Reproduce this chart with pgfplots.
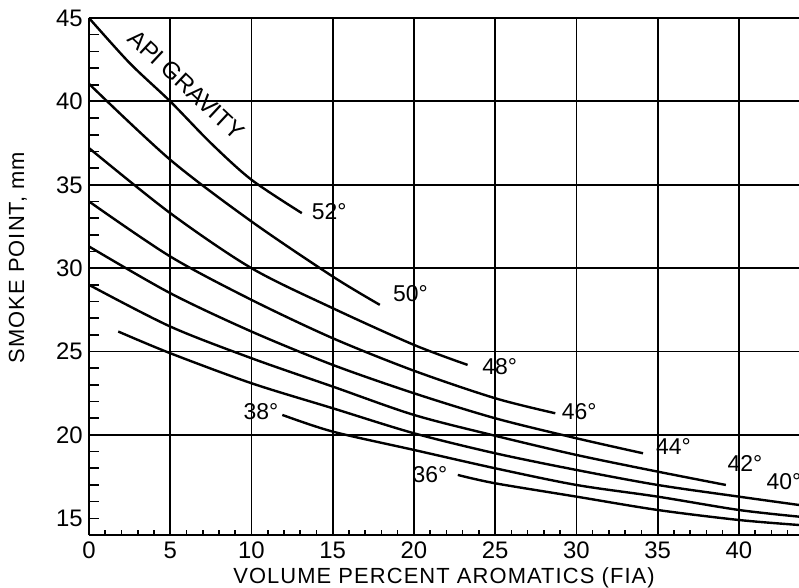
\documentclass[border=0pt]{standalone}
\usepackage{pgfplots}
\pgfplotsset{compat=1.18}
\usepackage{fontspec}
\setmainfont{Liberation Sans}
\newfontfamily\spaced[LetterSpace=5]{Liberation Sans}
\begin{document}
\begin{tikzpicture}
\begin{axis}[
  width=710bp, height=517bp, scale only axis,
  xmin=0, xmax=43.7, ymin=14, ymax=45,
  axis x line*=bottom, axis y line*=left,
  axis line style={line width=2.6bp, black},
  xtick={0,5,...,40}, ytick={20,25,...,45},
  extra y ticks={15}, extra y tick style={grid=none},
  minor xtick={1,...,43}, minor ytick={14,...,44},
  tick align=inside,
  major tick length=10bp, minor tick length=10bp,
  minor x tick style={/pgfplots/minor tick length=5bp},
  xmajorgrids, ymajorgrids,
  grid style={line width=1.8bp, black},
  tick style={line width=1.6bp, black},
  /pgf/number format/assume math mode=true,
  ticklabel style={font=\fontsize{24}{24}\selectfont},
  xticklabel style={inner sep=3bp, yshift=-4bp},
  yticklabel style={inner sep=3bp, xshift=-3bp},
  clip=false,
]
\coordinate (LL) at (rel axis cs:0,0);
\coordinate (UR) at (rel axis cs:1,1);
\draw[line width=2.6bp] (rel axis cs:0,1) -- (rel axis cs:1,1);

\addplot[black, line width=2.4bp, smooth] coordinates {(0,45) (2.5,42.3) (5,40) (7.5,37.5) (10,35.3) (13.1,33.3)};
\addplot[black, line width=2.4bp, smooth] coordinates {(0,41.05) (5,36.5) (10,32.8) (15,29.5) (17.9,27.8)};
\addplot[black, line width=2.4bp, smooth] coordinates {(0,37.2) (5,33.3) (10,30.0) (15,27.6) (20,25.4) (23.3,24.2)};
\addplot[black, line width=2.4bp, smooth] coordinates {(0,34.0) (5,30.7) (10,28.1) (15,25.8) (20,23.85) (25,22.2) (28.7,21.3)};
\addplot[black, line width=2.4bp, smooth] coordinates {(0,31.3) (5,28.5) (10,26.2) (15,24.2) (20,22.5) (25,21.0) (30,19.8) (34.1,18.9)};
\addplot[black, line width=2.4bp, smooth] coordinates {(0,29.0) (5,26.5) (10,24.6) (15,22.9) (20,21.2) (25,19.95) (30,18.8) (35,17.8) (39.2,17.0)};
\addplot[black, line width=2.4bp, smooth] coordinates {(1.8,26.2) (5,24.9) (10,23.1) (15,21.6) (20,20.1) (25,18.9) (30,17.9) (35,17.0) (40,16.3) (43.7,15.8)};
\addplot[black, line width=2.4bp, smooth] coordinates {(11.9,21.2) (15,20.2) (20,19.1) (25,18.0) (30,17.0) (35,16.3) (40,15.5) (43.7,15.1)};
\addplot[black, line width=2.4bp, smooth] coordinates {(22.7,17.6) (25,17.1) (30,16.3) (35,15.5) (40,14.9) (43.7,14.6)};

\node[font=\fontsize{24}{24}\selectfont, rotate=-43] at (axis cs:6.0,41.0) {API GRAVITY};
\begin{scope}[every node/.style={anchor=west, inner sep=0pt, font=\fontsize{23}{23}\selectfont}]
\node at (axis cs:13.7,33.4) {52°};
\node at (axis cs:18.7,28.5) {50°};
\node at (axis cs:24.2,24.1) {48°};
\node at (axis cs:29.1,21.4) {46°};
\node at (axis cs:34.9,19.3) {44°};
\node at (axis cs:39.3,18.3) {42°};
\node at (axis cs:41.7,17.2) {40°};
\node at (axis cs:9.5,21.4) {38°};
\node at (axis cs:19.9,17.6) {36°};
\end{scope}
\node[font=\spaced\fontsize{22}{22}\selectfont] at ([yshift=-43bp]rel axis cs:0.5,0) {VOLUME PERCENT AROMATICS (FIA)};
\node[font=\spaced\fontsize{22}{22}\selectfont, rotate=90] at ([xshift=-71bp]rel axis cs:0,0.536) {SMOKE POINT, mm};
\end{axis}
\pgfresetboundingbox
\useasboundingbox ([xshift=-89bp,yshift=-53bp]LL) rectangle ([yshift=18bp]UR);
\end{tikzpicture}
\end{document}
